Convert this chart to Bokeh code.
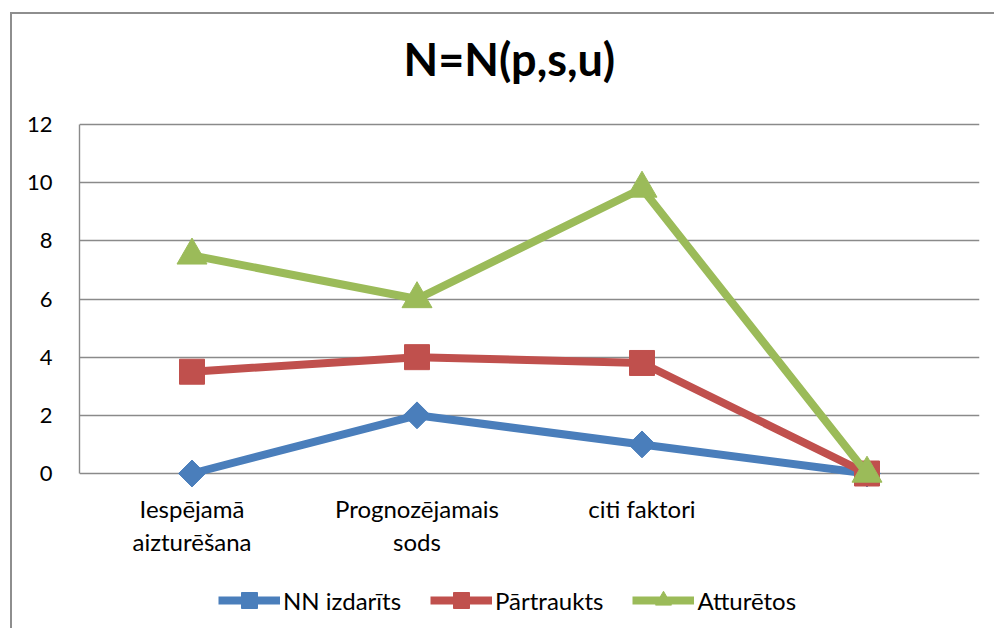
from bokeh.plotting import figure
from bokeh.models import FactorRange, Range1d, Legend, LegendItem, FixedTicker
from bokeh.core.properties import value
from bokeh.embed import file_html
from bokeh.resources import INLINE

categories = ["Iespējamā aizturēšana", "Prognozējamais sods", "citi faktori", " "]
label_line1 = ["Iespējamā", "Prognozējamais", "citi faktori", ""]
label_line2 = ["aizturēšana", "sods", "", ""]
nn_izdarits = [0, 2, 1, 0]
partraukts = [3.5, 4, 3.8, 0]
atturetos = [7.5, 6, 9.8, 0]
y_ticks = [0, 2, 4, 6, 8, 10, 12]
title_text = "N=N(p,s,u)"

FONT = "Lato"
GRID = "#8a8a8a"

# layout (pixels)
CANVAS_W, CANVAS_H = 984, 616
FRAME_TOP, Y12_PX, Y0_PX, FRAME_BOTTOM = 94, 124, 473, 630
px_per_unit = (Y0_PX - Y12_PX) / 12.0
y_top = 12 + (Y12_PX - FRAME_TOP) / px_per_unit
y_bottom = -(FRAME_BOTTOM - Y0_PX) / px_per_unit

p = figure(width=CANVAS_W, height=CANVAS_H, output_backend="svg", toolbar_location=None,
           x_range=FactorRange(*categories, range_padding=0),
           y_range=Range1d(y_bottom, y_top),
           min_border_left=67, min_border_right=17, min_border_top=80, min_border_bottom=0)
p.margin = (12, 0, 0, 10)
p.styles = {"border-top": "2px solid #8e8e8e", "border-left": "2px solid #8e8e8e"}
p.outline_line_color = None
p.background_fill_color = "white"
p.border_fill_color = "white"

p.title.text = title_text
p.title.text_font = FONT
p.title.text_font_size = "45px"
p.title.text_font_style = "bold"
p.title.align = "left"
p.title.offset = 324
p.title.standoff = 17
p.title.text_color = "black"

p.xaxis.visible = False
p.xgrid.grid_line_color = None
p.ygrid.ticker = FixedTicker(ticks=y_ticks)
p.ygrid.grid_line_color = GRID
p.ygrid.grid_line_width = 1.4

p.yaxis.ticker = FixedTicker(ticks=y_ticks)
p.yaxis.bounds = (0, 12)
p.yaxis.axis_line_color = GRID
p.yaxis.axis_line_width = 1.4
p.yaxis.major_tick_line_color = None
p.yaxis.major_tick_out = 0
p.yaxis.major_tick_in = 0
p.yaxis.minor_tick_line_color = None
p.yaxis.major_label_standoff = 27
p.yaxis.major_label_text_font = FONT
p.yaxis.major_label_text_font_size = "22px"
p.yaxis.major_label_text_color = "black"

# category labels, two lines under each category
for labels, dy in ((label_line1, 35), (label_line2, 68)):
    p.text(x=categories, y=0, text=labels, y_offset=dy,
           text_font=value(FONT), text_font_size=value("24px"), text_color="black",
           text_align="center", text_baseline="alphabetic")

series = [
    ("NN izdarīts", nn_izdarits, "#4A7EBB", "square", 19, 0.785398),
    ("Pārtraukts", partraukts, "#C0504D", "square", 25, 0.0),
    ("Atturētos", atturetos, "#9BBB59", "triangle", 30, 0.0),
]
items = []
for name, vals, color, marker, size, ang in series:
    l = p.line(categories, vals, line_color=color, line_width=8, line_join="round")
    s = p.scatter(categories, vals, marker=marker, size=size, angle=ang,
                  fill_color=color, line_color=color)
    items.append(LegendItem(label=name, renderers=[l, s]))

legend = Legend(items=items, orientation="horizontal", location=(139, 10),
                glyph_width=62, glyph_height=40, label_standoff=3, spacing=29,
                padding=0, margin=0, border_line_color=None, background_fill_alpha=0,
                label_text_font=FONT, label_text_font_size="24px", label_text_color="black")
p.add_layout(legend, "center")

open("out.html", "w").write(file_html(p, INLINE))
